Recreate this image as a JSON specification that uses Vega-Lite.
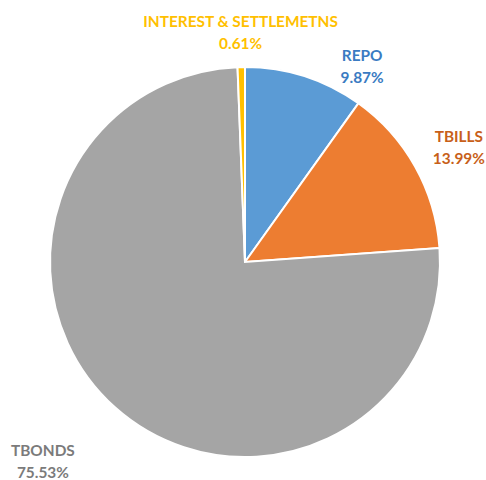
{
  "$schema": "https://vega.github.io/schema/vega-lite/v6.json",
  "width": 482,
  "height": 436,
  "autosize": {"type": "none"},
  "padding": {"left": 4, "top": 44, "right": 0, "bottom": 0},
  "background": "white",
  "config": {"view": {"stroke": null}},
  "data": {"values": [
    {"category": "REPO", "share": 9.87, "order": 1},
    {"category": "TBILLS", "share": 13.99, "order": 2},
    {"category": "TBONDS", "share": 75.53, "order": 3},
    {"category": "INTEREST & SETTLEMETNS", "share": 0.61, "order": 4}
  ]},
  "transform": [
    {"stack": "share", "groupby": [], "sort": [{"field": "order"}], "as": ["s0", "s1"]},
    {"calculate": "(datum.s0 + datum.s1) / 2", "as": "mid"},
    {"calculate": "[datum.category, format(datum.share, '.2f') + '%']", "as": "label"}
  ],
  "layer": [
    {
      "mark": {"type": "arc", "outerRadius": 195, "stroke": "white", "strokeWidth": 2},
      "encoding": {
        "theta": {"field": "s0", "type": "quantitative", "scale": {"domain": [0, 100], "range": [0, 6.283185307179586]}},
        "theta2": {"field": "s1"},
        "color": {"field": "category", "type": "nominal", "legend": null,
          "scale": {"domain": ["REPO", "TBILLS", "TBONDS", "INTEREST & SETTLEMETNS"], "range": ["#5B9BD5", "#ED7D31", "#A5A5A5", "#FFC000"]}}
      }
    },
    {
      "transform": [{"filter": "datum.category === 'INTEREST & SETTLEMETNS'"}],
      "mark": {"type": "text", "radius": 230, "dx": 0, "dy": -10, "font": "Lato", "fontWeight": "bold", "fontSize": 15.4, "lineHeight": 22, "color": "#FFC000", "align": "center", "baseline": "middle"},
      "encoding": {"theta": {"field": "mid", "type": "quantitative"}, "text": {"field": "label"}}
    },
    {
      "transform": [{"filter": "datum.category === 'REPO'"}],
      "mark": {"type": "text", "radius": 220, "dx": 50, "dy": 4, "font": "Lato", "fontWeight": "bold", "fontSize": 15.4, "lineHeight": 22, "color": "#3A7BC2", "align": "center", "baseline": "middle"},
      "encoding": {"theta": {"field": "mid", "type": "quantitative"}, "text": {"field": "label"}}
    },
    {
      "transform": [{"filter": "datum.category === 'TBILLS'"}],
      "mark": {"type": "text", "radius": 228, "dx": 15, "dy": -13, "font": "Lato", "fontWeight": "bold", "fontSize": 15.4, "lineHeight": 22, "color": "#C85F19", "align": "center", "baseline": "middle"},
      "encoding": {"theta": {"field": "mid", "type": "quantitative"}, "text": {"field": "label"}}
    },
    {
      "transform": [{"filter": "datum.category === 'TBONDS'"}],
      "mark": {"type": "text", "radius": 228, "dx": -50, "dy": 19, "font": "Lato", "fontWeight": "bold", "fontSize": 15.4, "lineHeight": 22, "color": "#7B7B7B", "align": "center", "baseline": "middle"},
      "encoding": {"theta": {"field": "mid", "type": "quantitative"}, "text": {"field": "label"}}
    }
  ]
}
